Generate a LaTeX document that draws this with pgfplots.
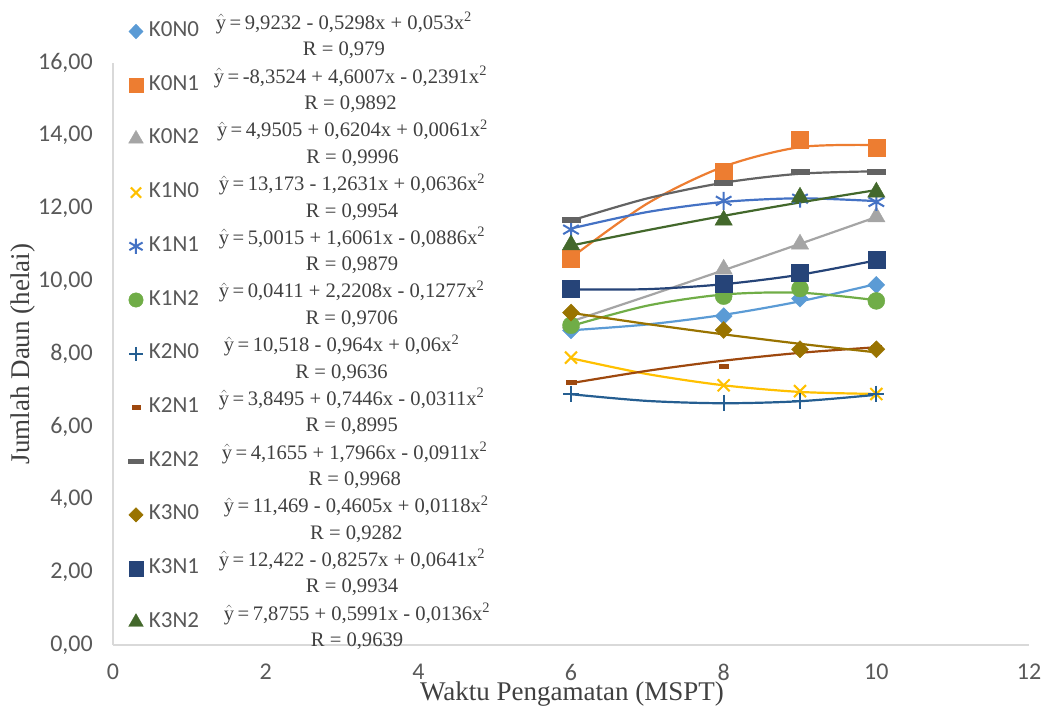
\documentclass[border=0pt]{standalone}
\usepackage{pgfplots}
\pgfplotsset{compat=1.18}
\usepackage{pgfplotstable}
\usepackage{fontspec}
\setmainfont{Liberation Serif}
\newfontfamily\carlito{Carlito}
\definecolor{cA}{HTML}{5B9BD5}
\definecolor{cB}{HTML}{ED7D31}
\definecolor{cC}{HTML}{A5A5A5}
\definecolor{cD}{HTML}{FFC000}
\definecolor{cE}{HTML}{4472C4}
\definecolor{cF}{HTML}{70AD47}
\definecolor{cG}{HTML}{255E91}
\definecolor{cH}{HTML}{9E480E}
\definecolor{cI}{HTML}{636363}
\definecolor{cJ}{HTML}{997300}
\definecolor{cK}{HTML}{264478}
\definecolor{cL}{HTML}{43682B}
\definecolor{txt}{HTML}{595959}
\definecolor{eqc}{HTML}{404040}
\definecolor{axc}{HTML}{D9D9D9}

% data
\pgfplotstableread{
x y
6 8.65
8 9.04
9 9.52
10 9.90
}\dA
\pgfplotstableread{
x y
6 10.63
8 13.02
9 13.88
10 13.67
}\dB
\pgfplotstableread{
x y
6 8.85
8 10.33
9 11.02
10 11.77
}\dC
\pgfplotstableread{
x y
6 7.90
8 7.14
9 6.98
10 6.90
}\dD
\pgfplotstableread{
x y
6 11.42
8 12.21
9 12.27
10 12.18
}\dE
\pgfplotstableread{
x y
6 8.79
8 9.59
9 9.80
10 9.46
}\dF
\pgfplotstableread{
x y
6 6.91
8 6.66
9 6.70
10 6.91
}\dG
\pgfplotstableread{
x y
6 7.23
8 7.67
9 8.12
10 8.18
}\dH
\pgfplotstableread{
x y
6 11.69
8 12.70
9 13.01
10 13.01
}\dI
\pgfplotstableread{
x y
6 9.14
8 8.66
9 8.13
10 8.13
}\dJ
\pgfplotstableread{
x y
6 9.80
8 9.92
9 10.24
10 10.58
}\dK
\pgfplotstableread{
x y
6 11.00
8 11.68
9 12.31
10 12.45
}\dL

% trendlines
\pgfplotstableread{
x y
6 8.652
7 8.812
8 9.077
9 9.448
10 9.925
}\tA
\pgfplotstableread{
x y
6 10.644
7 12.137
8 13.151
9 13.687
10 13.745
}\tB
\pgfplotstableread{
x y
6 8.893
7 9.592
8 10.304
9 11.029
10 11.765
}\tC
\pgfplotstableread{
x y
6 7.884
7 7.448
8 7.139
9 6.957
10 6.902
}\tD
\pgfplotstableread{
x y
6 11.449
7 11.903
8 12.180
9 12.280
10 12.203
}\tE
\pgfplotstableread{
x y
6 8.769
7 9.329
8 9.635
9 9.685
10 9.479
}\tF
\pgfplotstableread{
x y
6 6.894
7 6.710
8 6.646
9 6.702
10 6.878
}\tG
\pgfplotstableread{
x y
6 7.198
7 7.538
8 7.816
9 8.032
10 8.186
}\tH
\pgfplotstableread{
x y
6 11.666
7 12.278
8 12.708
9 12.956
10 13.022
}\tI
\pgfplotstableread{
x y
6 9.131
7 8.824
8 8.540
9 8.280
10 8.044
}\tJ
\pgfplotstableread{
x y
6 9.775
7 9.783
8 9.919
9 10.180
10 10.575
}\tK
\pgfplotstableread{
x y
6 10.981
7 11.403
8 11.798
9 12.166
10 12.507
}\tL

\newcommand\leg[4][0pt]{\makebox[70pt][l]{\carlito\fontsize{23}{26}\selectfont\color{txt}#2}\hspace*{#1}\raisebox{-6pt}{\fontsize{20.6}{26.5}\selectfont\color{eqc}\begin{tabular}{@{}c@{}}$\hat{\mathrm{y}}$\,=\,#3\\R = #4\end{tabular}}}
\newcommand\sq{\textsuperscript{2}}

\begin{document}
\begin{tikzpicture}
\useasboundingbox (-113pt,-64pt) rectangle (933pt,645pt);
\begin{axis}[
  at={(0pt,0pt)}, anchor=origin,
  scale only axis, width=916pt, height=582pt,
  xmin=0, xmax=12, ymin=0, ymax=16,
  xtick={0,2,...,12}, ytick={0,2,...,16},
  axis x line*=bottom, axis y line*=left,
  axis line style={-, draw=axc, line width=1.2pt},
  major tick length=0pt,
  /pgf/number format/assume math mode=true,
  tick label style={font=\carlito\fontsize{24}{28}\selectfont, text=txt},
  xticklabel style={anchor=center, yshift=-27pt},
  yticklabel style={anchor=east, inner sep=0pt, xshift=-20pt,
    /pgf/number format/.cd, fixed, fixed zerofill, precision=2, use comma},
  xlabel={Waktu Pengamatan (MSPT)},
  ylabel={Jumlah Daun (helai)},
  every axis x label/.style={at={(axis description cs:0.501,-0.084)}, anchor=center, text=eqc, font=\fontsize{27}{30}\selectfont},
  every axis y label/.style={at={(axis description cs:-0.098,0.5)}, rotate=90, anchor=center, text=eqc, font=\fontsize{27}{30}\selectfont},
  legend style={draw=none, fill=none, inner sep=0pt, outer sep=0pt,
    at={(0,1)}, anchor=north west, xshift=14pt, yshift=56.5pt,
    row sep=17.7pt, column sep=4pt, nodes={inner sep=0pt}},
  legend cell align=left,
  legend image code/.code={\path[draw=none, fill=none] (-9pt,-18pt) rectangle (9pt,18pt);
    \draw[#1, every mark/.append style={scale=0.85}] plot coordinates {(0pt,-7pt)};},
  clip=false,
]
% trendlines
\addplot[cA, line width=2.2pt, smooth, forget plot] table {\tA};
\addplot[cB, line width=2.2pt, smooth, forget plot] table {\tB};
\addplot[cC, line width=2.2pt, smooth, forget plot] table {\tC};
\addplot[cD, line width=2.2pt, smooth, forget plot] table {\tD};
\addplot[cE, line width=2.2pt, smooth, forget plot] table {\tE};
\addplot[cF, line width=2.2pt, smooth, forget plot] table {\tF};
\addplot[cG, line width=2.2pt, smooth, forget plot] table {\tG};
\addplot[cH, line width=2.2pt, smooth, forget plot] table {\tH};
\addplot[cI, line width=2.2pt, smooth, forget plot] table {\tI};
\addplot[cJ, line width=2.2pt, smooth, forget plot] table {\tJ};
\addplot[cK, line width=2.2pt, smooth, forget plot] table {\tK};
\addplot[cL, line width=2.2pt, smooth, forget plot] table {\tL};
% markers
\addplot[only marks, mark=diamond*, mark size=8.5pt, mark options={xscale=1.33, draw=cA, fill=cA}] table {\dA};
\addlegendentry{\leg[-3pt]{K0N0}{9,9232 - 0,5298x + 0,053x\sq}{0,979}}
\addplot[only marks, mark=square*, mark size=8.5pt, mark options={draw=cB, fill=cB}] table {\dB};
\addlegendentry{\leg[-5pt]{K0N1}{-8,3524 + 4,6007x - 0,2391x\sq}{0,9892}}
\addplot[only marks, mark=triangle*, mark size=10pt, mark options={draw=cC, fill=cC}] table {\dC};
\addlegendentry{\leg[-2pt]{K0N2}{4,9505 + 0,6204x + 0,0061x\sq}{0,9996}}
\addplot[only marks, mark=x, mark size=8.5pt, mark options={draw=cD, line width=2pt}] table {\dD};
\addlegendentry{\leg{K1N0}{13,173 - 1,2631x + 0,0636x\sq}{0,9954}}
\addplot[only marks, mark=asterisk, mark size=9pt, mark options={draw=cE, line width=2pt}] table {\dE};
\addlegendentry{\leg{K1N1}{5,0015 + 1,6061x - 0,0886x\sq}{0,9879}}
\addplot[only marks, mark=*, mark size=8.5pt, mark options={draw=cF, fill=cF}] table {\dF};
\addlegendentry{\leg{K1N2}{0,0411 + 2,2208x - 0,1277x\sq}{0,9706}}
\addplot[only marks, mark=+, mark size=8pt, mark options={draw=cG, line width=2pt}] table {\dG};
\addlegendentry{\leg[5pt]{K2N0}{10,518 - 0,964x + 0,06x\sq}{0,9636}}
\addplot[only marks, mark=square*, mark size=4.7pt, mark options={yscale=0.45, draw=cH, fill=cH}] table {\dH};
\addlegendentry{\leg{K2N1}{3,8495 + 0,7446x - 0,0311x\sq}{0,8995}}
\addplot[only marks, mark=square*, mark size=9pt, mark options={yscale=0.28, draw=cI, fill=cI}] table {\dI};
\addlegendentry{\leg[3pt]{K2N2}{4,1655 + 1,7966x - 0,0911x\sq}{0,9968}}
\addplot[only marks, mark=diamond*, mark size=8.5pt, mark options={xscale=1.33, draw=cJ, fill=cJ}] table {\dJ};
\addlegendentry{\leg[5pt]{K3N0}{11,469 - 0,4605x + 0,0118x\sq}{0,9282}}
\addplot[only marks, mark=square*, mark size=8.5pt, mark options={draw=cK, fill=cK}] table {\dK};
\addlegendentry{\leg{K3N1}{12,422 - 0,8257x + 0,0641x\sq}{0,9934}}
\addplot[only marks, mark=triangle*, mark size=10pt, mark options={draw=cL, fill=cL}] table {\dL};
\addlegendentry{\leg[5pt]{K3N2}{7,8755 + 0,5991x - 0,0136x\sq}{0,9639}}
\end{axis}
\end{tikzpicture}
\end{document}
